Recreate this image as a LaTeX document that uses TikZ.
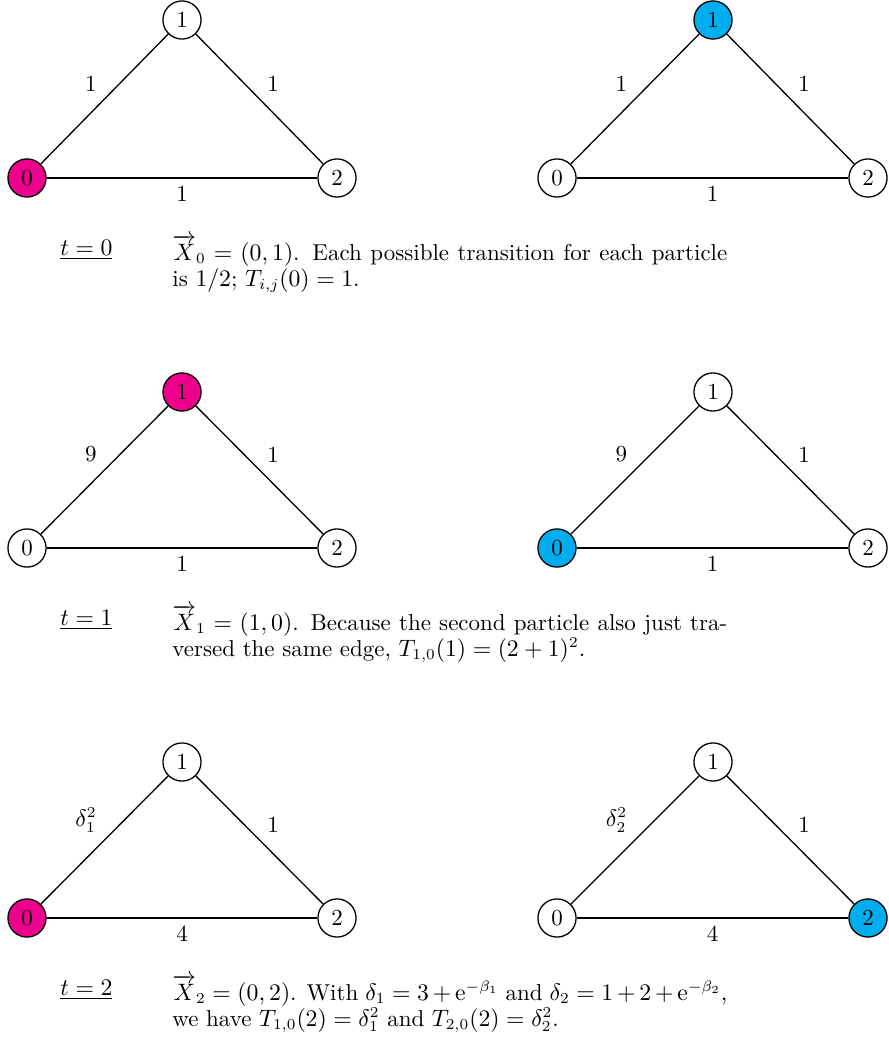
\documentclass[tikz,border=0pt]{standalone}
\usepackage{amsmath}
\definecolor{pmag}{RGB}{236,0,140}
\definecolor{pcyan}{RGB}{0,174,239}
\newcommand{\pfont}{\fontsize{10.6pt}{12pt}\selectfont}
\tikzset{
  every node/.style={font=\pfont},
  vtx/.style={circle,draw,line width=0.6pt,minimum size=17.6pt,inner sep=0pt,fill=white},
  edg/.style={line width=0.6pt},
  tlab/.style={anchor=base west,inner sep=0pt},
  desc/.style={anchor=base west,inner sep=0pt},
}
\begin{document}
\begin{tikzpicture}[x=0.4615pt,y=-0.4615pt]
\useasboundingbox (0,0) rectangle (889,1041);
% ---------- row 0 ----------
\node[vtx,fill=pmag] (a0) at (27,178) {0};
\node[vtx] (a1) at (182,20) {1};
\node[vtx] (a2) at (337,178) {2};
\draw[edg] (a0) -- node[above left]{1} (a1);
\draw[edg] (a1) -- node[above right]{1} (a2);
\draw[edg] (a0) -- node[below]{1} (a2);
\node[vtx] (b0) at (557,178) {0};
\node[vtx,fill=pcyan] (b1) at (713,20) {1};
\node[vtx] (b2) at (868,178) {2};
\draw[edg] (b0) -- node[above left]{1} (b1);
\draw[edg] (b1) -- node[above right]{1} (b2);
\draw[edg] (b0) -- node[below]{1} (b2);
\node[tlab] (t0) at (60,255) {\underline{$t=0$}};
\node[desc] (d0) at (172,260) {\parbox[t]{9cm}{\pfont$\overrightarrow{X}_0=(0,1)$. Each possible transition for each particle\linebreak is $1/2$; $T_{i,j}(0)=1$.}};
% ---------- row 1 ----------
\node[vtx] (c0) at (27,548) {0};
\node[vtx,fill=pmag] (c1) at (182,392) {1};
\node[vtx] (c2) at (337,548) {2};
\draw[edg] (c0) -- node[above left]{9} (c1);
\draw[edg] (c1) -- node[above right]{1} (c2);
\draw[edg] (c0) -- node[below]{1} (c2);
\node[vtx,fill=pcyan] (e0) at (557,548) {0};
\node[vtx] (e1) at (713,392) {1};
\node[vtx] (e2) at (868,548) {2};
\draw[edg] (e0) -- node[above left]{9} (e1);
\draw[edg] (e1) -- node[above right]{1} (e2);
\draw[edg] (e0) -- node[below]{1} (e2);
\node[tlab] (t1) at (60,625) {\underline{$t=1$}};
\node[desc] (d1) at (172,630) {\parbox[t]{9cm}{\pfont$\overrightarrow{X}_1=(1,0)$. Because the second particle also just tra-\linebreak versed the same edge, $T_{1,0}(1)=(2+1)^2$.}};
% ---------- row 2 ----------
\node[vtx,fill=pmag] (f0) at (27,918) {0};
\node[vtx] (f1) at (182,762) {1};
\node[vtx] (f2) at (337,918) {2};
\draw[edg] (f0) -- node[above left]{$\delta_1^2$} (f1);
\draw[edg] (f1) -- node[above right]{1} (f2);
\draw[edg] (f0) -- node[below]{4} (f2);
\node[vtx] (g0) at (557,918) {0};
\node[vtx] (g1) at (713,762) {1};
\node[vtx,fill=pcyan] (g2) at (868,918) {2};
\draw[edg] (g0) -- node[above left]{$\delta_2^2$} (g1);
\draw[edg] (g1) -- node[above right]{1} (g2);
\draw[edg] (g0) -- node[below]{4} (g2);
\node[tlab] (t2) at (60,995) {\underline{$t=2$}};
\node[desc] (d2) at (172,1000) {\parbox[t]{9cm}{\pfont$\overrightarrow{X}_2=(0,2)$. With $\delta_1=3+\mathrm{e}^{-\beta_1}$ and $\delta_2=1+2+\mathrm{e}^{-\beta_2}$,\linebreak we have $T_{1,0}(2)=\delta_1^2$ and $T_{2,0}(2)=\delta_2^2$.}};
\end{tikzpicture}
\end{document}
